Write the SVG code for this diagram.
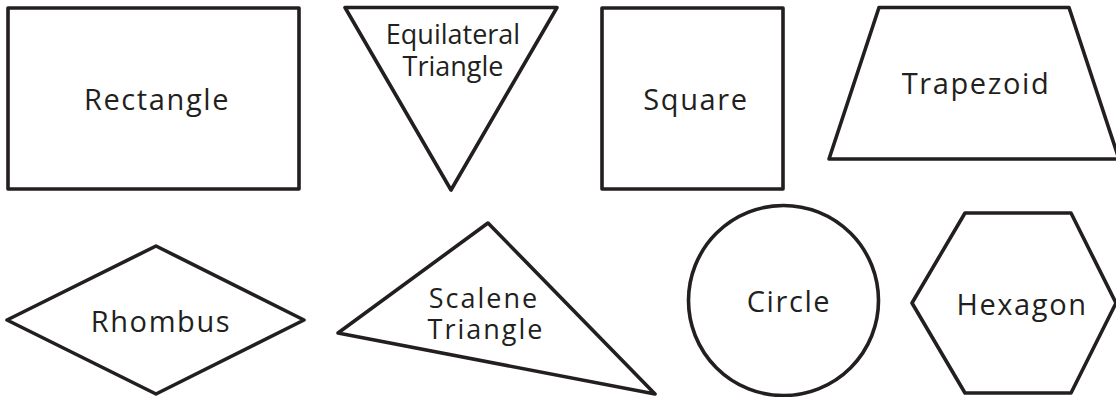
<svg xmlns="http://www.w3.org/2000/svg" width="1116" height="397" viewBox="0 0 1116 397">
<style>
.s{fill:#fff;stroke:#231f20;stroke-width:3.6;stroke-linejoin:round}
.t{font-family:"Open Sans","Noto Sans",sans-serif;font-size:29px;fill:#231f20;text-anchor:middle;letter-spacing:1.6px}
.e{font-size:27px;letter-spacing:0}
.c{font-size:27px;letter-spacing:2px}
</style>
<rect width="1116" height="397" fill="#fff"/>
<g id="rectangle">
<rect class="s" x="8" y="8" width="291" height="181"/>
<text class="t" x="157" y="110">Rectangle</text>
</g>
<g id="equilateral-triangle">
<polygon class="s" points="345,7.5 557,7.5 451,190"/>
<text class="t e" x="453" y="44">Equilateral</text>
<text class="t e" x="453" y="76">Triangle</text>
</g>
<g id="square">
<rect class="s" x="602" y="8" width="181" height="181"/>
<text class="t" x="696" y="110">Square</text>
</g>
<g id="trapezoid">
<polygon class="s" points="879,7.5 1069,7.5 1119,159 829,159"/>
<text class="t" x="976" y="94">Trapezoid</text>
</g>
<g id="rhombus">
<polygon class="s" points="7,320 156,246 304,320 156,394"/>
<text class="t" x="161" y="332">Rhombus</text>
</g>
<g id="scalene-triangle">
<polygon class="s" points="338,333 488,223 655,394"/>
<text class="t c" x="484" y="308">Scalene</text>
<text class="t c" x="486" y="339">Triangle</text>
</g>
<g id="circle">
<circle class="s" cx="783.5" cy="300.5" r="95"/>
<text class="t" x="789" y="312">Circle</text>
</g>
<g id="hexagon">
<polygon class="s" points="965,213 1071,213 1116,303 1071,393 965,393 912,303"/>
<text class="t" x="1022" y="315">Hexagon</text>
</g>
<g id="connectors"></g>
</svg>
